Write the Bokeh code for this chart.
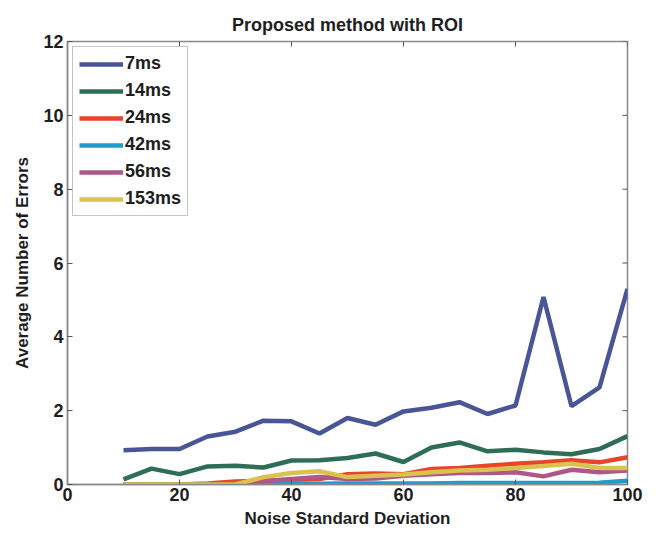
import math
from bokeh.plotting import figure
from bokeh.models import Range1d, Legend, LegendItem, FixedTicker
from bokeh.embed import file_html
from bokeh.resources import INLINE

noise = [10, 15, 20, 25, 30, 35, 40, 45, 50, 55, 60, 65, 70, 75, 80, 85, 90, 95, 100]
err_7ms = [0.93, 0.96, 0.96, 1.30, 1.43, 1.73, 1.71, 1.38, 1.80, 1.62, 1.98, 2.08, 2.23, 1.91, 2.14, 5.08, 2.12, 2.63, 5.30]
err_14ms = [0.14, 0.43, 0.28, 0.49, 0.51, 0.46, 0.65, 0.66, 0.72, 0.84, 0.61, 1.00, 1.14, 0.90, 0.94, 0.87, 0.82, 0.96, 1.31]
err_24ms = [0.0, 0.0, 0.0, 0.03, 0.08, 0.10, 0.13, 0.15, 0.28, 0.30, 0.28, 0.42, 0.45, 0.51, 0.56, 0.60, 0.66, 0.60, 0.74]
err_42ms = [0.0, 0.0, 0.0, 0.0, 0.0, 0.02, 0.02, 0.02, 0.03, 0.03, 0.03, 0.03, 0.04, 0.04, 0.04, 0.04, 0.04, 0.05, 0.10]
err_56ms = [0.0, 0.0, 0.0, 0.0, 0.02, 0.09, 0.15, 0.20, 0.15, 0.16, 0.24, 0.28, 0.31, 0.31, 0.33, 0.22, 0.40, 0.33, 0.38]
err_153ms = [0.0, 0.0, 0.0, 0.0, 0.0, 0.20, 0.31, 0.36, 0.20, 0.24, 0.27, 0.33, 0.38, 0.40, 0.45, 0.50, 0.56, 0.45, 0.45]

series_names = ["7ms", "14ms", "24ms", "42ms", "56ms", "153ms"]
series_vals = [err_7ms, err_14ms, err_24ms, err_42ms, err_56ms, err_153ms]
series_colors = ["#4a5598", "#2f6e56", "#e8452b", "#1f9ccb", "#b0578a", "#d9c24e"]

x_ticks = [0, 20, 40, 60, 80, 100]
y_ticks = [0, 2, 4, 6, 8, 10, 12]
x_min, x_max = 0, 100
y_min, y_max = 0, 12

FONT = "Liberation Sans"

p = figure(width=650, height=530, output_backend="svg", toolbar_location=None,
           x_range=Range1d(x_min, x_max), y_range=Range1d(y_min, y_max),
           min_border_left=67, min_border_right=23, min_border_top=41, min_border_bottom=46)
p.title.text = "Proposed method with ROI"
p.title.align = "center"
p.title.vertical_align = "top"
p.title.text_font = FONT
p.title.text_font_size = "18px"
p.title.text_font_style = "bold"
p.title.text_color = "#1e1e1e"
p.title.offset = 0
p.title.standoff = 10
p.xgrid.visible = False
p.ygrid.visible = False
p.outline_line_color = "#8a8a8a"
p.outline_line_width = 1.5

for ax in (p.xaxis[0], p.yaxis[0]):
    ax.major_tick_in = 5
    ax.major_tick_out = 0
    ax.minor_tick_line_color = None
    ax.axis_line_color = "#8a8a8a"
    ax.axis_line_width = 1.5
    ax.major_tick_line_color = "#555555"
    ax.major_label_text_font = FONT
    ax.major_label_text_font_size = "18px"
    ax.major_label_text_font_style = "bold"
    ax.major_label_text_color = "#1e1e1e"
    ax.axis_label_text_font = FONT
    ax.axis_label_text_font_size = "17px"
    ax.axis_label_text_font_style = "bold"
    ax.axis_label_text_color = "#1e1e1e"

p.xaxis[0].ticker = FixedTicker(ticks=x_ticks)
p.yaxis[0].ticker = FixedTicker(ticks=y_ticks)
p.xaxis[0].axis_label = "Noise Standard Deviation"
p.yaxis[0].axis_label = "Average Number of Errors"
p.xaxis[0].major_label_standoff = 3
p.xaxis[0].axis_label_standoff = 5
p.yaxis[0].major_label_standoff = 4
p.yaxis[0].axis_label_standoff = 8

# inward ticks on top and right edges (mirrored, as in MATLAB boxes)
p.ray(x=x_ticks, y=[y_max] * len(x_ticks), length=5, length_units="screen",
      angle=-math.pi / 2, line_color="#555555", line_width=1)
p.ray(x=[x_max] * len(y_ticks), y=y_ticks, length=5, length_units="screen",
      angle=math.pi, line_color="#555555", line_width=1)

items = []
for name, vals, col in zip(series_names, series_vals, series_colors):
    r = p.line(noise, vals, line_color=col, line_width=4.5)
    items.append(LegendItem(label=name, renderers=[r]))

legend = Legend(items=items, location="top_left")
legend.label_text_font = FONT
legend.label_text_font_size = "18px"
legend.label_text_font_style = "bold"
legend.label_text_color = "#1e1e1e"
legend.glyph_width = 44
legend.glyph_height = 20
legend.label_height = 20
legend.spacing = 6
legend.padding = 6
legend.margin = 5
legend.label_standoff = 2
legend.border_line_color = "#8a8a8a"
legend.border_line_width = 1.5
legend.background_fill_alpha = 1
p.add_layout(legend)

open("out.html", "w").write(file_html(p, INLINE))
